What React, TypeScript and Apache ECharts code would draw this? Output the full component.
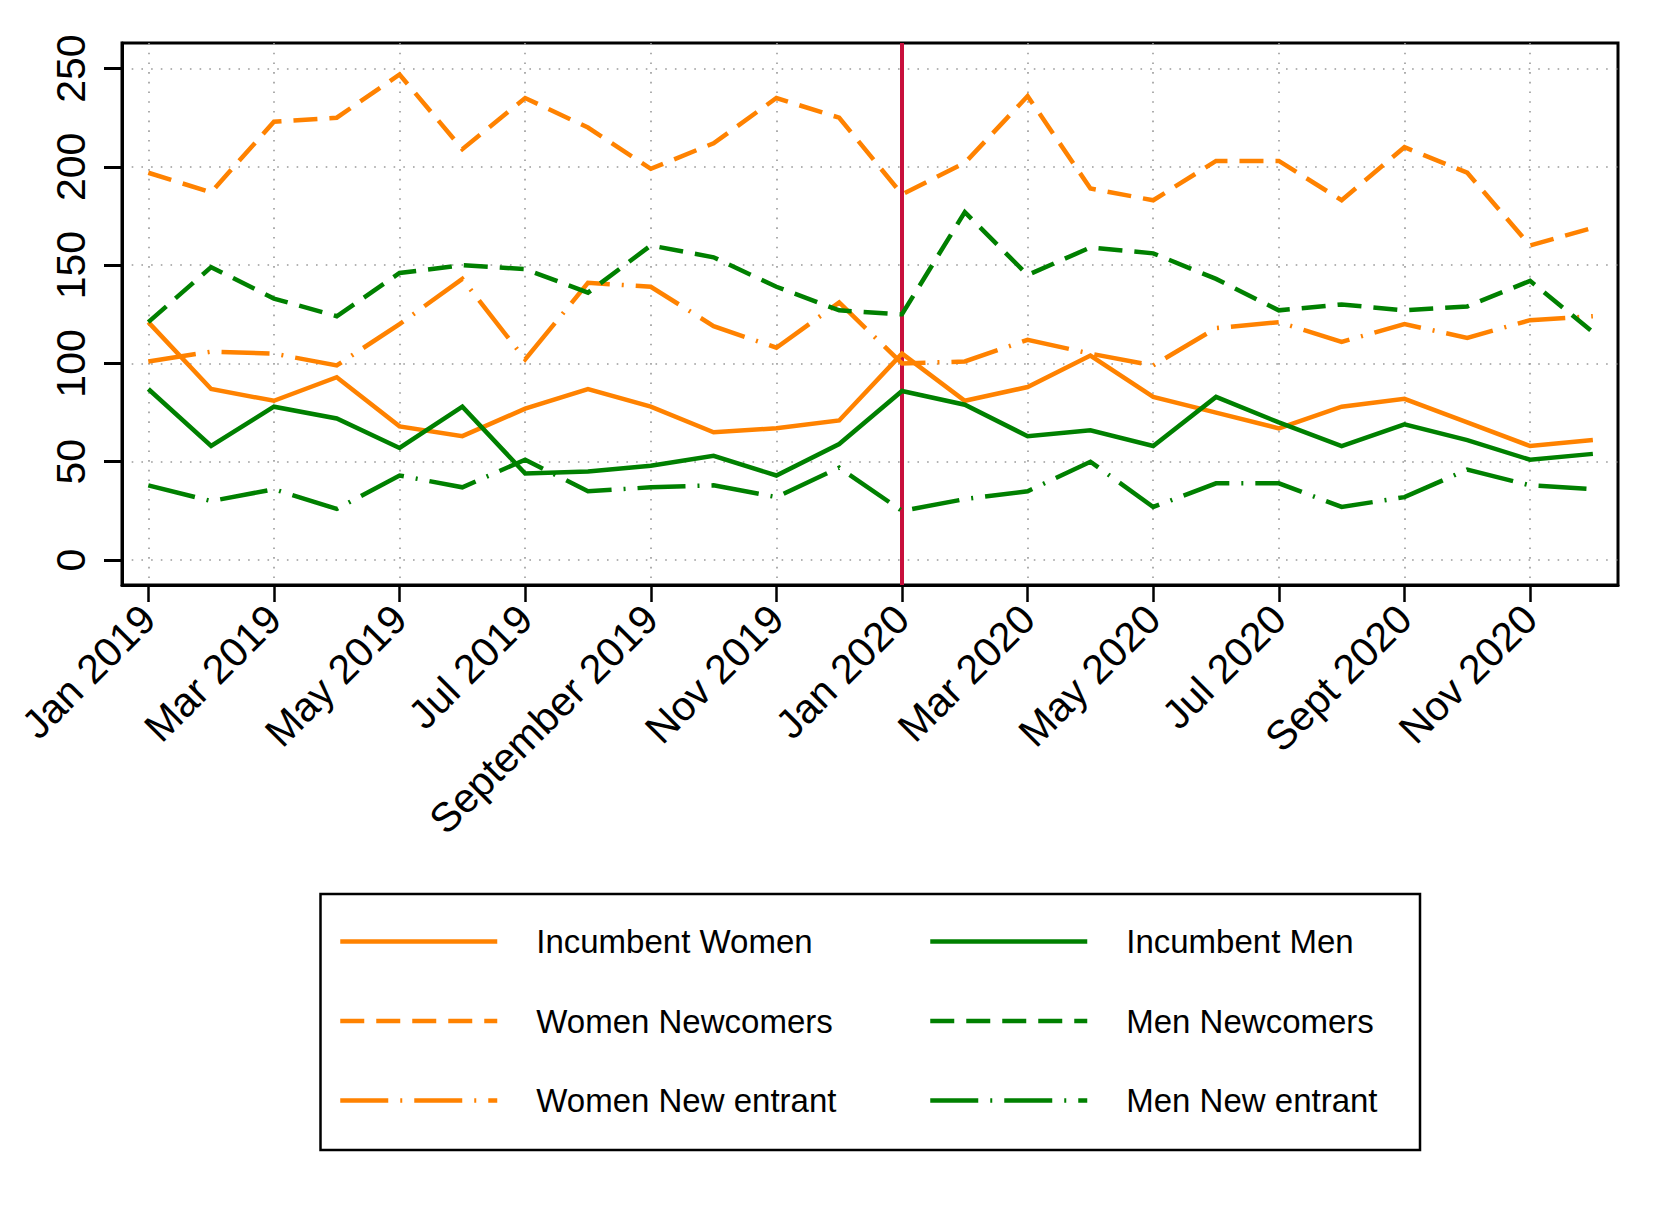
import React, { useEffect, useRef } from 'react';
import * as echarts from 'echarts';

const months = [
  'Jan 2019', 'Feb 2019', 'Mar 2019', 'Apr 2019', 'May 2019', 'Jun 2019',
  'Jul 2019', 'Aug 2019', 'Sep 2019', 'Oct 2019', 'Nov 2019', 'Dec 2019',
  'Jan 2020', 'Feb 2020', 'Mar 2020', 'Apr 2020', 'May 2020', 'Jun 2020',
  'Jul 2020', 'Aug 2020', 'Sep 2020', 'Oct 2020', 'Nov 2020', 'Dec 2020',
];
const tickMonths = [0, 2, 4, 6, 8, 10, 12, 14, 16, 18, 20, 22];
const tickLabels = [
  'Jan 2019', 'Mar 2019', 'May 2019', 'Jul 2019', 'September 2019', 'Nov 2019',
  'Jan 2020', 'Mar 2020', 'May 2020', 'Jul 2020', 'Sept 2020', 'Nov 2020',
];
const yTicks = [0, 50, 100, 150, 200, 250];
const eventMonth = 12;

const incumbentWomen = [121, 87, 81, 93, 68, 63, 77, 87, 78, 65, 67, 71, 105, 81, 88, 104, 83, 75, 67, 78, 82, 70, 58, 61];
const incumbentMen = [87, 58, 78, 72, 57, 78, 44, 45, 48, 53, 43, 59, 86, 79, 63, 66, 58, 83, 70, 58, 69, 61, 51, 54];
const womenNewcomers = [197, 187, 223, 225, 247, 209, 235, 220, 199, 212, 235, 225, 186, 202, 236, 189, 183, 203, 203, 183, 210, 197, 160, 169];
const menNewcomers = [121, 149, 133, 124, 146, 150, 148, 136, 160, 154, 139, 127, 125, 177, 145, 159, 156, 143, 127, 130, 127, 129, 142, 116];
const womenNewEntrant = [101, 106, 105, 99, 120, 143, 102, 141, 139, 119, 108, 131, 100, 101, 112, 105, 99, 118, 121, 111, 120, 113, 122, 124];
const menNewEntrant = [38, 30, 36, 26, 43, 37, 51, 35, 37, 38, 32, 47, 25, 31, 35, 50, 27, 39, 39, 27, 32, 46, 38, 36];

const FONT = 'Liberation Sans, Arial, Helvetica, sans-serif';

export default function App() {
  const ref = useRef<HTMLDivElement>(null);
  useEffect(() => {
    const chart = echarts.init(ref.current!, null, { renderer: 'svg' });
    const orange = '#FF8200';
    const green = '#008000';
    const dashed = [24, 12];
    const dashDot = [48, 12, 2, 12];
    const LW = 4.5;
    const pts = (arr: number[]) => arr.map((v, i) => [i, v]);
    const mk = (name: string, data: number[], color: string, type: any) => ({
      type: 'line',
      name,
      data: pts(data),
      symbol: 'none',
      lineStyle: { color, width: LW, type, cap: 'butt', join: 'miter' },
      itemStyle: { color },
      emphasis: { disabled: true },
      z: 3,
    });
    const grid = { color: '#9a9a9a', width: 1.6, type: [1.6, 8.1] };
    const legendBase = {
      orient: 'vertical',
      top: 917,
      padding: 0,
      itemWidth: 157,
      itemHeight: 14,
      itemGap: 46.5,
      selectedMode: false,
      itemStyle: { opacity: 0 },
      lineStyle: { width: LW },
      textStyle: { fontSize: 33, fontFamily: FONT, color: '#000', lineHeight: 14, padding: [0, 0, 0, 34] },
    };
    chart.setOption({
      animation: false,
      backgroundColor: '#fff',
      grid: {
        left: 114, top: 35, right: 35, bottom: 615,
        show: true, borderColor: '#000', borderWidth: 3,
        outerBoundsMode: 'none', containLabel: false,
      },
      xAxis: {
        type: 'value',
        min: -0.419,
        max: 23.4,
        axisLine: { show: true, onZero: false, lineStyle: { color: '#000', width: 3 } },
        axisTick: { show: true, customValues: tickMonths, length: 17, lineStyle: { color: '#000', width: 2.5 } },
        axisLabel: {
          customValues: tickMonths,
          rotate: 45,
          margin: 27,
          fontSize: 41,
          fontFamily: FONT,
          color: '#000',
          formatter: (v: number) => tickLabels[tickMonths.indexOf(Math.round(v))] ?? months[Math.round(v)],
        },
        splitLine: { show: true, lineStyle: grid },
      },
      yAxis: {
        type: 'value',
        min: -12.7,
        max: 263,
        axisLine: { show: true, onZero: false, lineStyle: { color: '#000', width: 3 } },
        axisTick: { show: true, customValues: yTicks, length: 18, lineStyle: { color: '#000', width: 3 } },
        axisLabel: {
          customValues: yTicks,
          rotate: 90,
          margin: 31,
          fontSize: 41,
          fontFamily: FONT,
          color: '#000',
        },
        splitLine: { show: true, lineStyle: grid },
      },
      legend: [
        { ...legendBase, left: 330, data: ['Incumbent Women', 'Women Newcomers', 'Women New entrant'] },
        { ...legendBase, left: 920, data: ['Incumbent Men', 'Men Newcomers', 'Men New entrant'] },
      ],
      graphic: [
        {
          type: 'rect',
          shape: { x: 312.5, y: 886, width: 1099.5, height: 256 },
          style: { fill: 'none', stroke: '#000', lineWidth: 2.5 },
          silent: true,
        },
      ],
      series: [
        {
          ...mk('Incumbent Women', incumbentWomen, orange, 'solid'),
          markLine: {
            silent: true,
            z: 1,
            symbol: ['none', 'none'],
            label: { show: false },
            emphasis: { disabled: true },
            lineStyle: { color: '#C80F3C', width: 4, type: 'solid' },
            data: [{ xAxis: eventMonth }],
          },
        },
        mk('Women Newcomers', womenNewcomers, orange, dashed),
        mk('Women New entrant', womenNewEntrant, orange, dashDot),
        mk('Incumbent Men', incumbentMen, green, 'solid'),
        mk('Men Newcomers', menNewcomers, green, dashed),
        mk('Men New entrant', menNewEntrant, green, dashDot),
      ],
    });
    return () => chart.dispose();
  }, []);
  return <div ref={ref} style={{ width: 1645, height: 1192 }} />;
}
